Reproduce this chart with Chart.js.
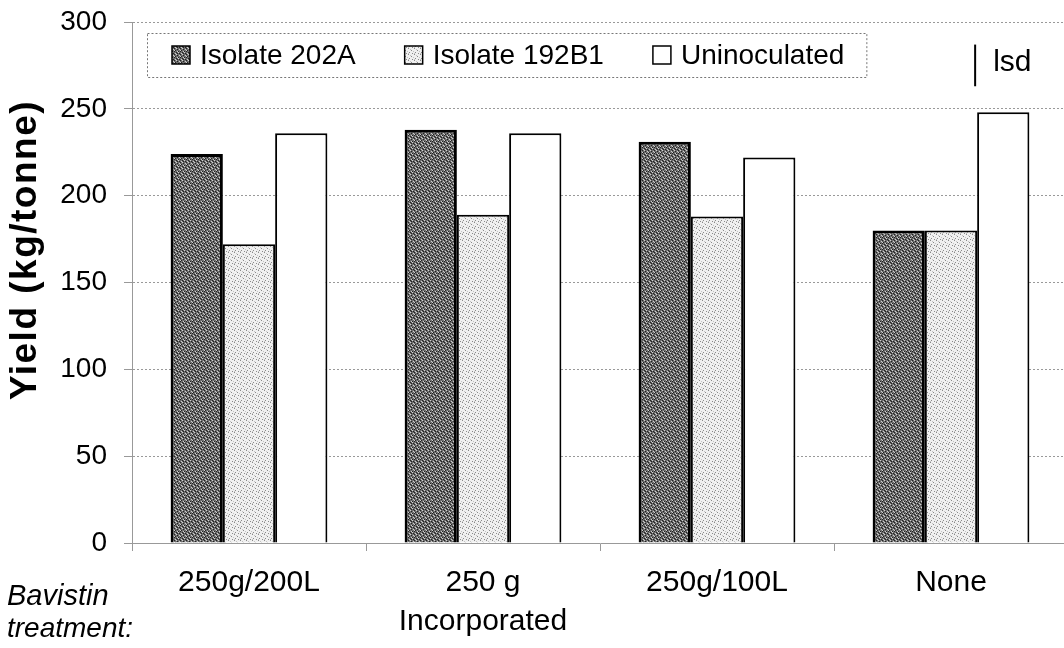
<!DOCTYPE html>
<html>
<head>
<meta charset="utf-8">
<script src="https://cdn.jsdelivr.net/npm/chart.js@4"></script>
<style>
html,body{margin:0;padding:0;background:#fff;overflow:hidden;}
#wrap{position:relative;width:1068px;height:648px;}
</style>
</head>
<body>
<div id="wrap"><canvas id="c"></canvas></div>
<script>
// ---- data ----
const categories = [['250g/200L'], ['250 g', 'Incorporated'], ['250g/100L'], ['None']];
const seriesNames = ['Isolate 202A', 'Isolate 192B1', 'Uninoculated'];
const isolate202A = [224, 238, 231, 180];
const isolate192B1 = [172, 189, 188, 180];
const uninoculated = [236, 236, 222, 248];
const yTicks = [0, 50, 100, 150, 200, 250, 300];
const lsdValue = 24;
const lsdTop = 287;
const yTitle = 'Yield (kg/tonne)';
const axisNote = ['Bavistin', 'treatment:'];

// ---- fill patterns ----
const tmp = document.createElement('canvas').getContext('2d');
const darkPat = (function(){
  const c = document.createElement('canvas'); c.width = 6; c.height = 6;
  const g = c.getContext('2d');
  g.fillStyle = '#6e6e6e'; g.fillRect(0,0,6,6);
  const blk = [[0,0],[3,1],[1,2],[4,3],[2,4],[5,5],[0,3],[3,5]];
  const wht = [[2,0],[5,1],[0,2],[3,3],[1,5],[4,4]];
  g.fillStyle = '#222'; blk.forEach(p => g.fillRect(p[0], p[1], 1, 1));
  g.fillStyle = '#cfcfcf'; wht.forEach(p => g.fillRect(p[0], p[1], 1, 1));
  return tmp.createPattern(c, 'repeat');
})();
const lightPat = (function(){
  const c = document.createElement('canvas'); c.width = 6; c.height = 6;
  const g = c.getContext('2d');
  g.fillStyle = '#f0f0f0'; g.fillRect(0,0,6,6);
  g.fillStyle = '#8a8a8a'; [[0,0],[3,2],[1,4],[4,5]].forEach(p => g.fillRect(p[0], p[1], 1, 1));
  g.fillStyle = '#c4c4c4'; [[2,1],[5,3],[0,5]].forEach(p => g.fillRect(p[0], p[1], 1, 1));
  return tmp.createPattern(c, 'repeat');
})();
const fills = [darkPat, lightPat, '#ffffff'];
const borderWidths = [3, 2, 2];

const FONT = 'Liberation Sans, Arial, sans-serif';

const extras = {
  id: 'extras',
  afterDatasetsDraw(chart) {
    const ctx = chart.ctx, a = chart.chartArea;
    ctx.save();
    ctx.font = '28px ' + FONT;
    const left = a.left + 15, top = 33, h = 44;
    let x = left + 25;
    const items = chart.data.datasets.map((d, i) => {
      const it = { x, label: d.label, fill: fills[i] };
      x += 18 + 10 + ctx.measureText(d.label).width + 49;
      return it;
    });
    const last = items[items.length - 1];
    const right = last.x + 28 + ctx.measureText(last.label).width + 22;
    ctx.fillStyle = '#fff';
    ctx.fillRect(left, top, right - left, h);
    ctx.strokeStyle = '#777'; ctx.lineWidth = 1; ctx.setLineDash([2, 2]);
    ctx.strokeRect(left + 0.5, top + 0.5, right - left, h);
    ctx.setLineDash([]);
    const cy = top + h / 2;
    items.forEach(it => {
      ctx.fillStyle = it.fill;
      ctx.fillRect(it.x, cy - 9, 18, 18);
      ctx.strokeStyle = '#000'; ctx.lineWidth = 1.5;
      ctx.strokeRect(it.x, cy - 9, 18, 18);
      ctx.fillStyle = '#000'; ctx.textBaseline = 'middle'; ctx.textAlign = 'left';
      ctx.fillText(it.label, it.x + 28, cy + 1);
    });
    // lsd bar
    const meta = chart.getDatasetMeta(2);
    const bar = meta.data[meta.data.length - 1];
    const lx = bar.x - bar.width / 2 - 2;
    const ys = chart.scales.y;
    const y1 = ys.getPixelForValue(lsdTop), y2 = ys.getPixelForValue(lsdTop - lsdValue);
    ctx.strokeStyle = '#000'; ctx.lineWidth = 2;
    ctx.beginPath(); ctx.moveTo(lx, y1); ctx.lineTo(lx, y2); ctx.stroke();
    ctx.font = '30px ' + FONT;
    ctx.fillText('lsd', lx + 18, (y1 + y2) / 2 - 3);
    // axis note
    ctx.font = 'italic 29px ' + FONT;
    ctx.fillText(axisNote[0], 7, 597);
    ctx.font = 'italic 28px ' + FONT;
    ctx.fillText(axisNote[1], 7, 629);
    // y title
    ctx.save();
    ctx.translate(26, 250);
    ctx.rotate(-Math.PI / 2);
    ctx.font = 'bold 37px ' + FONT;
    try { ctx.letterSpacing = '1.5px'; } catch (e) {}
    ctx.textAlign = 'center'; ctx.textBaseline = 'middle';
    ctx.fillText(yTitle, 0, 0);
    ctx.restore();
    ctx.restore();
  }
};

new Chart(document.getElementById('c'), {
  type: 'bar',
  data: {
    labels: categories,
    datasets: [isolate202A, isolate192B1, uninoculated].map((v, i) => ({
      label: seriesNames[i],
      data: v,
      backgroundColor: fills[i],
      borderColor: '#000',
      borderWidth: borderWidths[i],
      borderSkipped: 'bottom',
      barPercentage: 1.0,
      categoryPercentage: 0.67
    }))
  },
  options: {
    responsive: true,
    maintainAspectRatio: false,
    animation: false,
    layout: { padding: { top: 22, left: 0, right: 0, bottom: 0 } },
    plugins: { legend: { display: false }, tooltip: { enabled: false } },
    scales: {
      x: {
        offset: true,
        afterFit(s) { s.height = 105; s.paddingLeft = 0; s.paddingRight = 0; },
        grid: { display: true, drawOnChartArea: false, offset: true, tickLength: 8, color: '#999' },
        border: { display: true, color: '#999', dash: [2, 2] },
        ticks: { color: '#000', font: { family: FONT, size: 30, lineHeight: 1.3 }, padding: 12, maxRotation: 0, autoSkip: false }
      },
      y: {
        min: 0, max: 300,
        afterFit(s) { s.width = 132; s.paddingTop = 0; s.paddingBottom = 0; },
        afterBuildTicks(s) { s.ticks = yTicks.map(v => ({ value: v })); },
        grid: { color: '#999', tickLength: 8 },
        border: { display: true, color: '#999', dash: [2, 2] },
        ticks: { color: '#000', font: { family: FONT, size: 28 }, padding: 17 },
        title: { display: false }
      }
    }
  },
  plugins: [extras]
});
</script>
</body>
</html>
